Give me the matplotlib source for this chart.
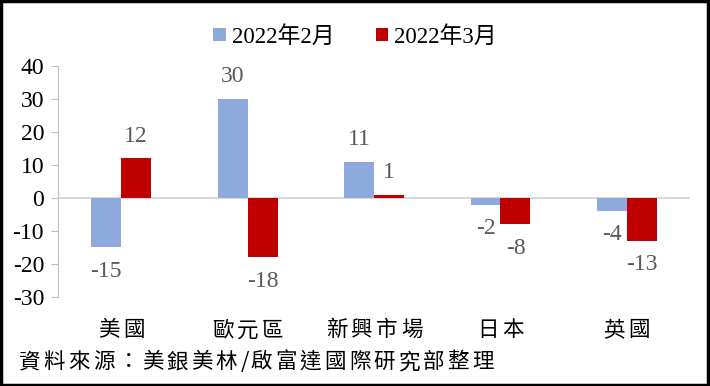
import numpy as np
import matplotlib
matplotlib.use("Agg")
import matplotlib.pyplot as plt
from matplotlib.patches import Rectangle

# Data
categories = ["美國", "歐元區", "新興市場", "日本", "英國"]
feb = [-15, 30, 11, -2, -4]
mar = [12, -18, 1, -8, -13]
series_names = ["2022年2月", "2022年3月"]
yticks = [-30, -20, -10, 0, 10, 20, 30, 40]
source = "資料來源：美銀美林/啟富達國際研究部整理"

FONT_NUM = ["Liberation Serif", "Noto Sans CJK TC"]
FONT_CJK = ["Noto Sans CJK TC", "DejaVu Sans"]
C_FEB = "#8EA9DB"
C_MAR = "#C00000"
C_LABEL = "#595959"

fig = plt.figure(figsize=(7.1, 3.86), dpi=100)
ax = fig.add_axes([0.0817, 0.2306, 0.8903, 0.5984])

x = np.arange(len(categories))
w = 0.237
b1 = ax.bar(x - w / 2, feb, w, color=C_FEB, label=series_names[0], zorder=2)
b2 = ax.bar(x + w / 2, mar, w, color=C_MAR, label=series_names[1], zorder=2)

for bars, vals in [(b1, feb), (b2, mar)]:
    for rect, v in zip(bars, vals):
        cx = rect.get_x() + rect.get_width() / 2
        off = 16 if v >= 0 else -17
        ax.annotate(str(v), (cx, v), xytext=(0, off), textcoords="offset points",
                    ha="center", va="center", fontsize=17, color=C_LABEL,
                    family=FONT_NUM)

ax.set_xlim(-0.5, len(categories) - 0.5)
ax.set_ylim(-30, 40)
ax.set_yticks(yticks)
ax.set_yticklabels([str(t) for t in yticks], family=FONT_NUM, fontsize=17)
ax.axhline(0, color="#D9D9D9", lw=1.5, zorder=1)

for s in ["top", "right", "bottom"]:
    ax.spines[s].set_visible(False)
ax.spines["left"].set_color("#BFBFBF")
ax.tick_params(axis="y", length=5, color="#BFBFBF", pad=5)
ax.set_xticks([])

# category labels, drawn char by char to get the wide spacing
pitch = 18  # points
for xi, c in zip(x, categories):
    n = len(c)
    for k, ch in enumerate(c):
        dx = (k - (n - 1) / 2) * pitch
        ax.annotate(ch, (xi, -30), xytext=(dx, -24), textcoords="offset points",
                    ha="center", va="center", fontsize=15.5, family=FONT_CJK)

leg = fig.legend(loc="center", bbox_to_anchor=(0.5, 0.905), ncol=2, frameon=False,
                 prop={"family": FONT_NUM, "size": 16.5}, handlelength=0.55,
                 handleheight=0.55, handletextpad=0.25, columnspacing=1.8)

# source line, also spaced
sx = 19
for ch in source:
    fig.text(sx / 710, 1 - 362 / 386, ch, fontsize=15.5, family=FONT_CJK,
             va="center", ha="left")
    sx += 10 if ch == "/" else 24.6

fig.patches.append(Rectangle((0.002, 0.003), 0.995, 0.994, transform=fig.transFigure,
                             fill=False, edgecolor="black", lw=2.5))

fig.savefig("out.png", dpi=100)
